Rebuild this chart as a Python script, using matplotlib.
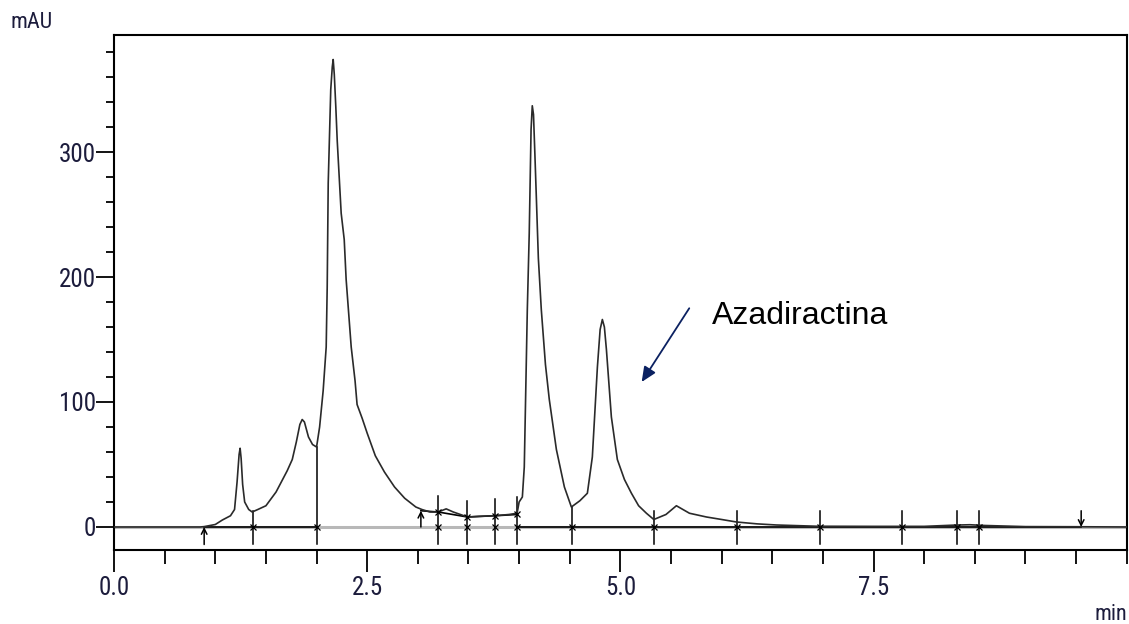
import matplotlib
matplotlib.use('Agg')
import matplotlib.pyplot as plt
from matplotlib import font_manager

# chromatogram trace (min, mAU)
time_min = [0.0, 0.5, 0.85, 0.89, 1.0, 1.07, 1.15, 1.19, 1.215, 1.235, 1.245, 1.255, 1.27, 1.29,
            1.33, 1.364, 1.42, 1.5, 1.6, 1.71, 1.76, 1.8, 1.835, 1.858, 1.88, 1.92, 1.96, 2.0,
            2.03, 2.065, 2.095, 2.105, 2.115, 2.14, 2.155, 2.164, 2.175, 2.19, 2.204, 2.243,
            2.273, 2.292, 2.342, 2.38, 2.4, 2.45, 2.5, 2.58, 2.67, 2.77, 2.87, 2.98, 3.04, 3.12,
            3.2, 3.28, 3.35, 3.49, 3.6, 3.76, 3.9, 3.98, 4.0, 4.032, 4.051, 4.081, 4.1, 4.118,
            4.13, 4.142, 4.155, 4.17, 4.19, 4.219, 4.26, 4.298, 4.368, 4.447, 4.516, 4.6, 4.674,
            4.723, 4.773, 4.8, 4.822, 4.842, 4.862, 4.911, 4.97, 5.04, 5.109, 5.18, 5.257, 5.33,
            5.45, 5.553, 5.682, 5.85, 6.0, 6.146, 6.35, 6.54, 6.94, 7.5, 8.0, 8.3, 8.45, 8.6,
            9.0, 9.5, 10.0]
mau = [0.0, 0.0, 0.0, 0.3, 2.0, 5.6, 9.0, 14.0, 36.0, 58.0, 63.0, 55.0, 34.0, 20.0,
       14.0, 12.0, 14.0, 17.0, 28.0, 45.0, 54.0, 68.0, 82.0, 86.0, 84.0, 72.0, 66.0, 64.0,
       80.0, 109.0, 144.0, 192.0, 275.0, 350.0, 368.0, 374.0, 362.0, 336.0, 309.0, 251.0,
       230.0, 198.0, 144.0, 117.0, 98.0, 87.0, 75.0, 57.0, 44.0, 32.0, 23.0, 16.0, 14.0, 12.0,
       12.0, 14.5, 12.0, 8.0, 8.5, 9.0, 10.0, 11.0, 20.0, 24.0, 48.0, 174.0, 235.0, 318.0,
       337.0, 330.0, 300.0, 264.0, 215.0, 174.0, 130.0, 102.0, 62.0, 32.0, 16.0, 21.0, 27.0,
       56.0, 128.0, 158.0, 166.0, 160.0, 142.0, 88.0, 54.0, 38.0, 27.0, 17.0, 11.0, 6.0,
       10.0, 17.0, 11.0, 8.0, 6.0, 4.0, 2.5, 1.6, 0.6, 0.5, 0.5, 1.5, 1.8, 1.2,
       0.3, 0.2, 0.0]

# integration marks
base1_t = [0.89, 1.37, 2.0]
base1_v = [0, 0, 0]
base2_t = [3.03, 3.2, 3.49, 3.76, 3.98]
base2_v = [13, 12, 8, 9, 10]
base3_t = [3.98, 4.52, 5.33, 6.15, 6.97, 7.78, 8.32, 8.54, 9.55]
base3_v = [0, 0, 0, 0, 0, 0, 0, 0, 0]
drop_t = [1.37, 2.0, 3.2, 3.49, 3.76, 3.98, 4.52, 5.33, 6.15, 6.97, 7.78, 8.32, 8.54]
drop_top = [13, 64, 25, 21, 22, 24, 16, 13, 13, 13, 13, 13, 13]


def pick_narrow():
    for fam in ['Liberation Sans Narrow', 'Arial Narrow', 'Roboto Condensed',
                'DejaVu Sans Condensed', 'Open Sans Condensed']:
        try:
            font_manager.findfont(fam, fallback_to_default=False)
            return dict(family=fam, size=18)
        except ValueError:
            pass
    path = font_manager.findfont(font_manager.FontProperties(family='DejaVu Sans', stretch='condensed'))
    if 'Condensed' in path:
        return dict(family='DejaVu Sans', stretch='condensed', size=17)
    return dict(family='Liberation Sans', size=17)


label_font = pick_narrow()
tick_color = '#1c1c3c'

fig = plt.figure(figsize=(11.29, 6.24), dpi=100)
ax = fig.add_axes([0.101, 0.1186, 0.897, 0.8253])

ax.axhline(0, color='#b8b8b8', lw=2.2, zorder=1)
ax.plot(time_min, mau, color='#2a2a2a', lw=1.2, zorder=3)

ax.plot(base1_t, base1_v, color='black', lw=1.2, zorder=2)
ax.plot(base2_t, base2_v, color='black', lw=1.2, zorder=2)
ax.plot(base3_t, base3_v, color='black', lw=1.2, zorder=2)

for t, top in zip(drop_t, drop_top):
    ax.plot([t, t], [-13.6, top], color='black', lw=1.1, zorder=2)
ax.plot(drop_t, [0] * len(drop_t), ls='none', marker='x', ms=5, mew=0.9, color='black', zorder=4)
ax.plot(base2_t[1:], base2_v[1:], ls='none', marker='x', ms=5, mew=0.9, color='black', zorder=4)

# start / end arrows
ax.annotate('', xy=(0.89, 0), xytext=(0.89, -14),
            arrowprops=dict(arrowstyle='->', lw=1.1, color='black', shrinkA=0, shrinkB=0))
ax.annotate('', xy=(3.03, 13), xytext=(3.03, 0),
            arrowprops=dict(arrowstyle='->', lw=1.1, color='black', shrinkA=0, shrinkB=0))
ax.annotate('', xy=(9.55, 0), xytext=(9.55, 13),
            arrowprops=dict(arrowstyle='->', lw=1.1, color='black', shrinkA=0, shrinkB=0))

# Azadiractina label
ax.annotate('', xy=(5.21, 116), xytext=(5.68, 175),
            arrowprops=dict(arrowstyle='-|>,head_length=0.9,head_width=0.4', lw=1.3,
                            color='#0b2161', shrinkA=0, shrinkB=0))
ax.text(5.9, 162.4, 'Azadiractina', fontsize=23, family='Liberation Sans',
        color='black', va='baseline', ha='left')

ax.set_xlim(0, 10)
ax.set_ylim(-18.4, 393.6)
ax.set_xticks([0, 2.5, 5.0, 7.5])
ax.set_xticklabels(['0.0', '2.5', '5.0', '7.5'])
ax.set_xticks([x * 0.5 for x in range(21)], minor=True)
ax.set_yticks([0, 100, 200, 300])
ax.set_yticks([y * 20 for y in range(20)], minor=True)

ax.tick_params(axis='both', which='major', direction='out', width=1.3, colors='black',
               labelcolor=tick_color)
ax.tick_params(axis='x', which='major', length=16, pad=3)
ax.tick_params(axis='x', which='minor', length=10, width=1.3)
ax.tick_params(axis='y', which='major', length=13, pad=0)
ax.tick_params(axis='y', which='minor', length=6, width=1.3)
for lab in ax.get_xticklabels() + ax.get_yticklabels():
    lab.set_fontproperties(font_manager.FontProperties(**label_font))

for s in ax.spines.values():
    s.set_linewidth(1.5)

small_font = dict(label_font)
small_font['size'] = label_font['size'] - 2
fig.text(11 / 1129, 1 - 28 / 624, 'mAU', color=tick_color, ha='left', va='baseline',
         fontproperties=font_manager.FontProperties(**small_font))
fig.text(1127 / 1129, 1 - 620 / 624, 'min', color=tick_color, ha='right', va='baseline',
         fontproperties=font_manager.FontProperties(**small_font))

fig.savefig('out.png', dpi=100)
